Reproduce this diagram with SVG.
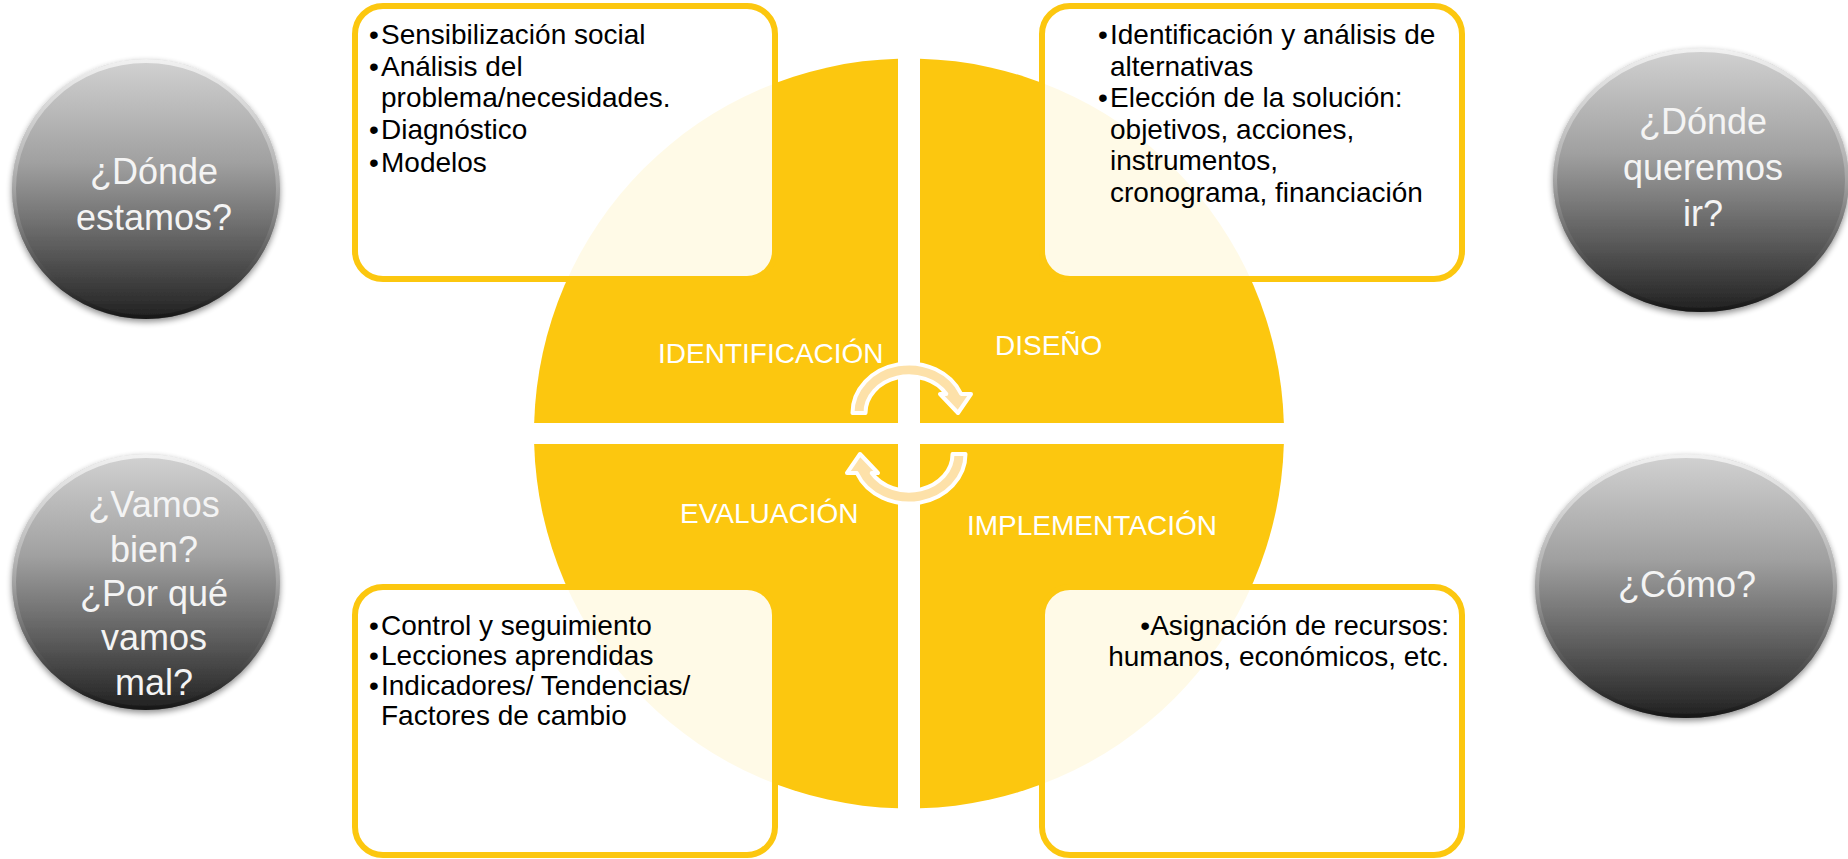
<svg xmlns="http://www.w3.org/2000/svg" width="1848" height="859" viewBox="0 0 1848 859">
  <style>
    .quad { fill: #FCC70F; }
    .box { fill: #FFFFFF; fill-opacity: 0.9; stroke: #FCC70F; stroke-width: 6; }
    .bt { font-family: "Liberation Sans", Arial, sans-serif; font-size: 28px; fill: #000000; }
    .ql { font-family: "Liberation Sans", Arial, sans-serif; font-size: 28px; fill: #FFFFFF; }
    .ball { fill: url(#gBall); filter: url(#sh); }
    .rim { fill: none; stroke: url(#gRim); stroke-width: 4; }
    .bq { font-family: "Liberation Sans", Arial, sans-serif; font-size: 36px; fill: #F4F4F4; text-anchor: middle; }
    .cyc { fill: #FDE1A9; stroke: #FFFFFF; stroke-width: 4; stroke-linejoin: round; }
  </style>
  <defs>
    <linearGradient id="gBall" x1="0" y1="0" x2="0" y2="1">
      <stop offset="0" stop-color="#d2d2d2"/>
      <stop offset="0.4" stop-color="#a0a0a0"/>
      <stop offset="0.75" stop-color="#575757"/>
      <stop offset="1" stop-color="#202020"/>
    </linearGradient>
    <linearGradient id="gRim" x1="0" y1="0" x2="0" y2="1">
      <stop offset="0" stop-color="#f4f4f4" stop-opacity="0.9"/>
      <stop offset="0.5" stop-color="#bbbbbb" stop-opacity="0.5"/>
      <stop offset="1" stop-color="#111111" stop-opacity="0.6"/>
    </linearGradient>
    <filter id="sh" x="-10%" y="-10%" width="120%" height="125%">
      <feGaussianBlur in="SourceAlpha" stdDeviation="3"/>
      <feOffset dy="3" result="b"/>
      <feComponentTransfer><feFuncA type="linear" slope="0.45"/></feComponentTransfer>
      <feMerge><feMergeNode/><feMergeNode in="SourceGraphic"/></feMerge>
    </filter>
  </defs>

  <rect x="0" y="0" width="1848" height="859" fill="#FFFFFF"/>

  <g id="cycle">
    <path class="quad" d="M 898 423 L 534.15 423 A 375 375 0 0 1 898 58.66 Z"/>
    <path class="quad" d="M 920 423 L 920 58.66 A 375 375 0 0 1 1283.85 423 Z"/>
    <path class="quad" d="M 920 444 L 1283.85 444 A 375 375 0 0 1 920 808.34 Z"/>
    <path class="quad" d="M 898 444 L 898 808.34 A 375 375 0 0 1 534.15 444 Z"/>
    <text class="ql" x="658" y="363">IDENTIFICACIÓN</text>
    <text class="ql" x="995" y="355">DISEÑO</text>
    <text class="ql" x="680" y="523">EVALUACIÓN</text>
    <text class="ql" x="967" y="535">IMPLEMENTACIÓN</text>
  </g>

  <g id="connectors">
    <path class="cyc" d="M 852.5 413 A 56.5 49.5 0 0 1 961.2 394 L 971 394 L 958 413 L 940 394 L 946.3 394 A 43.5 36.5 0 0 0 865.5 413 Z"/>
    <path class="cyc" transform="rotate(180 909 433.5)" d="M 852.5 413 A 56.5 49.5 0 0 1 961.2 394 L 971 394 L 958 413 L 940 394 L 946.3 394 A 43.5 36.5 0 0 0 865.5 413 Z"/>
  </g>

  <g id="box-identificacion">
    <rect class="box" x="355" y="6" width="420" height="273" rx="28" ry="28"/>
    <text class="bt"><tspan x="369" y="44">•</tspan><tspan x="381" y="44">Sensibilización social</tspan></text>
    <text class="bt"><tspan x="369" y="76">•</tspan><tspan x="381" y="76">Análisis del</tspan></text>
    <text class="bt" x="381" y="107">problema/necesidades.</text>
    <text class="bt"><tspan x="369" y="139">•</tspan><tspan x="381" y="139">Diagnóstico</tspan></text>
    <text class="bt"><tspan x="369" y="172">•</tspan><tspan x="381" y="172">Modelos</tspan></text>
  </g>

  <g id="box-diseno">
    <rect class="box" x="1042" y="6" width="420" height="273" rx="28" ry="28"/>
    <text class="bt"><tspan x="1098" y="44">•</tspan><tspan x="1110" y="44">Identificación y análisis de</tspan></text>
    <text class="bt" x="1110" y="75.6">alternativas</text>
    <text class="bt"><tspan x="1098" y="107">•</tspan><tspan x="1110" y="107">Elección de la solución:</tspan></text>
    <text class="bt" x="1110" y="139">objetivos, acciones,</text>
    <text class="bt" x="1110" y="170">instrumentos,</text>
    <text class="bt" x="1110" y="202">cronograma, financiación</text>
  </g>

  <g id="box-evaluacion">
    <rect class="box" x="355" y="587" width="420" height="268" rx="28" ry="28"/>
    <text class="bt"><tspan x="369" y="635">•</tspan><tspan x="381" y="635">Control y seguimiento</tspan></text>
    <text class="bt"><tspan x="369" y="665">•</tspan><tspan x="381" y="665">Lecciones aprendidas</tspan></text>
    <text class="bt"><tspan x="369" y="695">•</tspan><tspan x="381" y="695">Indicadores/ Tendencias/</tspan></text>
    <text class="bt" x="381" y="725">Factores de cambio</text>
  </g>

  <g id="box-implementacion">
    <rect class="box" x="1042" y="587" width="420" height="268" rx="28" ry="28"/>
    <text class="bt" x="1449" y="635" text-anchor="end">•Asignación de recursos:</text>
    <text class="bt" x="1449" y="666" text-anchor="end">humanos, económicos, etc.</text>
  </g>

  <g id="q-donde-estamos">
    <ellipse class="ball" cx="146" cy="189" rx="134" ry="130"/>
    <ellipse class="rim" cx="146" cy="189" rx="132" ry="128"/>
    <text class="bq" x="154" y="184">¿Dónde</text>
    <text class="bq" x="154" y="230">estamos?</text>
  </g>

  <g id="q-vamos-bien">
    <ellipse class="ball" cx="146" cy="582" rx="134" ry="128"/>
    <ellipse class="rim" cx="146" cy="582" rx="132" ry="126"/>
    <text class="bq" x="154" y="517">¿Vamos</text>
    <text class="bq" x="154" y="562">bien?</text>
    <text class="bq" x="154" y="606">¿Por qué</text>
    <text class="bq" x="154" y="650">vamos</text>
    <text class="bq" x="154" y="695">mal?</text>
  </g>

  <g id="q-donde-queremos">
    <ellipse class="ball" cx="1701" cy="180" rx="148" ry="132"/>
    <ellipse class="rim" cx="1701" cy="180" rx="146" ry="130"/>
    <text class="bq" x="1703" y="134">¿Dónde</text>
    <text class="bq" x="1703" y="180">queremos</text>
    <text class="bq" x="1703" y="226">ir?</text>
  </g>

  <g id="q-como">
    <ellipse class="ball" cx="1686" cy="586" rx="151" ry="132"/>
    <ellipse class="rim" cx="1686" cy="586" rx="149" ry="130"/>
    <text class="bq" x="1687" y="597">¿Cómo?</text>
  </g>
</svg>
